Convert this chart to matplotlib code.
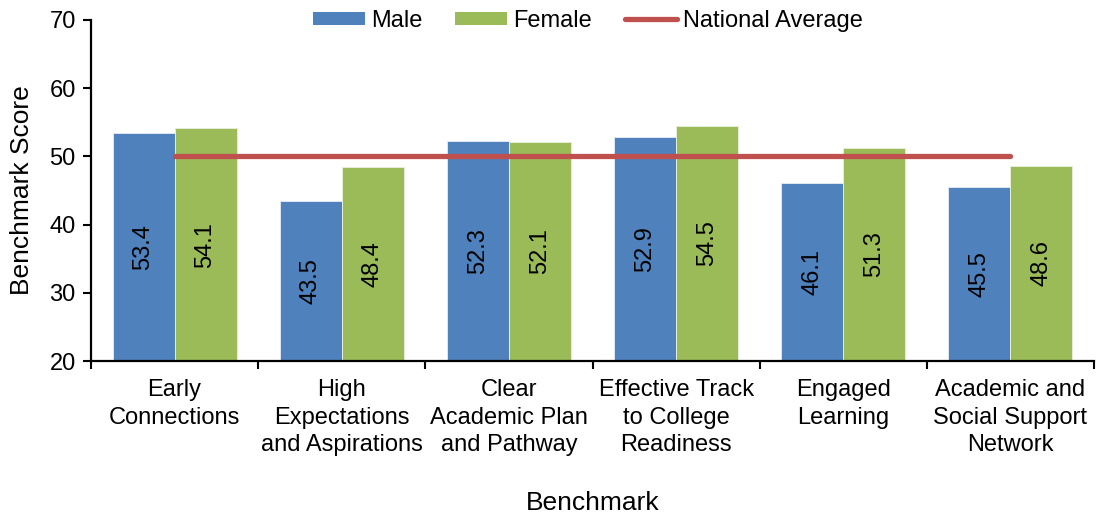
import matplotlib.pyplot as plt
import numpy as np
from matplotlib.patches import Patch
from matplotlib.lines import Line2D

plt.rcParams['font.family'] = ['Liberation Sans', 'DejaVu Sans']

# data
benchmarks = ['Early\nConnections', 'High\nExpectations\nand Aspirations',
              'Clear\nAcademic Plan\nand Pathway', 'Effective Track\nto College\nReadiness',
              'Engaged\nLearning', 'Academic and\nSocial Support\nNetwork']
male = [53.4, 43.5, 52.3, 52.9, 46.1, 45.5]
female = [54.1, 48.4, 52.1, 54.5, 51.3, 48.6]
national_avg = [50, 50, 50, 50, 50, 50]

y_min, y_max = 20, 70
blue = '#4F81BD'
green = '#9BBB59'
red = '#C0504D'

fig = plt.figure(figsize=(10.96, 5.16), dpi=100)
ax = fig.add_axes([91 / 1096, 1 - 361 / 516, 1003 / 1096, 341 / 516])

x = np.arange(len(benchmarks))
w = 0.371

ax.bar(x - w / 2, male, w, color=blue, edgecolor='#dfe7f1', linewidth=0.7, zorder=2)
ax.bar(x + w / 2, female, w, color=green, edgecolor='#e6eedb', linewidth=0.7, zorder=2)
ax.plot(x, national_avg, color=red, lw=3.8, solid_capstyle='round', zorder=3)

# value labels, centred in the visible part of each bar
for xs, vals in ((x - w / 2, male), (x + w / 2, female)):
    for xi, v in zip(xs, vals):
        ax.text(xi, (y_min + v) / 2, f'{v:.1f}', rotation=90, ha='center', va='center',
                fontsize=17, zorder=4)

ax.set_xlim(-0.5, len(benchmarks) - 0.5)
ax.set_ylim(y_min, y_max)
ax.set_yticks(np.arange(20, 71, 10))

# boundary ticks without labels, labels at the category centres
ax.set_xticks(np.arange(-0.5, len(benchmarks)), labels=[])
ax.set_xticks(x, labels=benchmarks, minor=True)
ax.tick_params(axis='x', which='major', length=6, width=1.5, direction='out')
ax.tick_params(axis='x', which='minor', length=0, pad=13, labelsize=17)
ax.tick_params(axis='y', length=6, width=1.5, direction='out', labelsize=17, pad=5)
for lbl in ax.get_xticklabels(minor=True):
    lbl.set_linespacing(1.33)

for s in ('top', 'right'):
    ax.spines[s].set_visible(False)
for s in ('left', 'bottom'):
    ax.spines[s].set_linewidth(1.6)

ax.set_xlabel('Benchmark', fontsize=19, va='center')
ax.xaxis.set_label_coords(0.5, (361 - 503) / 341)
ax.set_ylabel('Benchmark Score', fontsize=19, va='center')
ax.yaxis.set_label_coords((22 - 91) / 1003, 0.5)

handles = [Patch(facecolor=blue, label='Male'),
           Patch(facecolor=green, label='Female'),
           Line2D([0], [0], color=red, lw=3.8, solid_capstyle='round', label='National Average')]
fig.legend(handles=handles, loc='center', bbox_to_anchor=(588 / 1096, 1 - 21 / 516), ncol=3,
           frameon=False, fontsize=17, handlelength=2.2, handleheight=0.5,
           handletextpad=0.25, columnspacing=1.4, borderpad=0)

fig.savefig('out.png', dpi=100)
